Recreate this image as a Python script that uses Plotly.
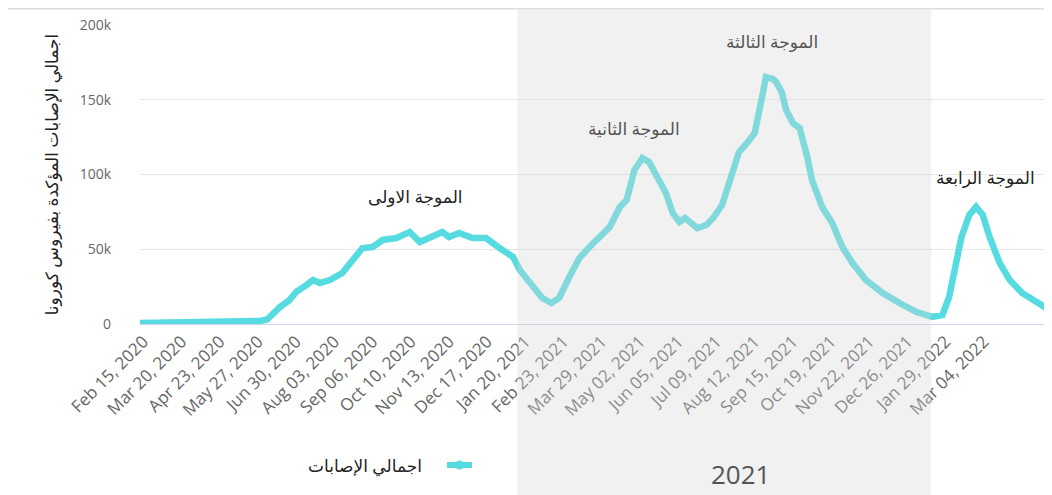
import plotly.graph_objects as go

# ---- data ----
dates = ["2020-02-12","2020-04-05","2020-05-20","2020-05-29","2020-06-04","2020-06-15","2020-06-24",
         "2020-06-30","2020-07-09","2020-07-15","2020-07-21","2020-07-30","2020-08-10","2020-08-19",
         "2020-08-28","2020-09-06","2020-09-15","2020-09-27","2020-10-09","2020-10-18","2020-10-27",
         "2020-11-07","2020-11-13","2020-11-22","2020-12-04","2020-12-16","2020-12-28",
         "2021-01-09","2021-01-15","2021-01-24","2021-02-04","2021-02-12","2021-02-19","2021-02-28",
         "2021-03-09","2021-03-18","2021-03-27","2021-04-05","2021-04-14","2021-04-20","2021-04-27",
         "2021-05-04","2021-05-10","2021-05-17","2021-05-25","2021-05-31","2021-06-06","2021-06-11",
         "2021-06-17","2021-06-22","2021-06-30","2021-07-06","2021-07-14","2021-07-22","2021-07-29",
         "2021-08-06","2021-08-12","2021-08-18","2021-08-22","2021-08-28","2021-08-31","2021-09-05",
         "2021-09-09","2021-09-15","2021-09-21","2021-09-28","2021-10-02","2021-10-11","2021-10-20",
         "2021-10-29","2021-11-07","2021-11-19","2021-12-04","2021-12-19",
         "2022-01-03","2022-01-17","2022-01-26","2022-02-01","2022-02-07","2022-02-12","2022-02-19",
         "2022-02-25","2022-03-03","2022-03-09","2022-03-18","2022-03-27","2022-04-07","2022-04-20",
         "2022-04-30"]
cases = [600,800,1500,2000,3000,11000,16000,21400,26000,29400,27400,29400,34100,42800,50800,51500,
         56200,57500,61500,54800,58200,61500,58200,60900,57500,57500,50800,
         44800,36100,27400,17400,14000,17400,31400,44100,51500,58200,64900,78300,82900,103000,111000,
         108400,98300,87600,74200,68200,70900,67600,64200,66200,70900,79600,98300,115000,121800,127800,
         149800,165200,163900,162000,155200,143100,134400,131100,111000,96300,78300,67600,51500,40800,
         29400,20700,14000,
         8000,4700,6000,18000,38100,58200,72900,78300,72900,58200,40800,29400,20700,14700,10000]

tick_dates = ["2020-02-15","2020-03-20","2020-04-23","2020-05-27","2020-06-30","2020-08-03",
              "2020-09-06","2020-10-10","2020-11-13","2020-12-17","2021-01-20","2021-02-23",
              "2021-03-29","2021-05-02","2021-06-05","2021-07-09","2021-08-12","2021-09-15",
              "2021-10-19","2021-11-22","2021-12-26","2022-01-29","2022-03-04"]
y_ticks = [0, 50000, 100000, 150000, 200000]
y_tick_text = ["0", "50k", "100k", "150k", "200k"]

wave_labels = ["الموجة الاولى", "الموجة الثانية", "الموجة الثالثة", "الموجة الرابعة"]
wave_x = ["2020-10-14", "2021-04-27", "2021-08-27", "2022-03-05"]
wave_y = [85600, 131100, 189300, 97700]
wave_colors = ["#222222", "#555555", "#555555", "#222222"]

series_name = "اجمالي الإصابات"
y_title = "اجمالي الإصابات المؤكدة بفيروس كورونا"
band_start, band_end = "2021-01-13", "2022-01-16"
band_label = "2021"
band_label_x = "2021-07-30"
x_range = ["2020-02-12", "2022-04-30"]

LINE = "#56dbe0"
FONT = "Open Sans, DejaVu Sans, sans-serif"

fig = go.Figure()
fig.add_trace(go.Scatter(x=dates, y=cases, mode="lines", name=series_name,
                         line=dict(color=LINE, width=6.5), showlegend=False))

# plot band for 2021 (drawn over the line, like the reference)
fig.add_shape(type="rect", xref="x", yref="paper", x0=band_start, x1=band_end,
              y0=-0.6, y1=1.05, fillcolor="rgba(214,214,214,0.34)", line_width=0, layer="above")
# top thin rule
fig.add_shape(type="line", xref="paper", yref="paper", x0=-0.16, x1=1.01, y0=1.054, y1=1.054,
              line=dict(color="#dddddd", width=1.5), layer="above")

for t, xx, yy, c in zip(wave_labels, wave_x, wave_y, wave_colors):
    fig.add_annotation(x=xx, y=yy, text=t, showarrow=False, font=dict(family=FONT, size=17, color=c))

fig.add_annotation(x=band_label_x, xref="x", y=-0.502, yref="paper", xanchor="center", yanchor="middle",
                   text=band_label, showarrow=False, font=dict(family=FONT, size=26, color="#555555"))

# legend (RTL: symbol to the right of the text)
fig.add_annotation(x=0.3128, y=-0.4716, xref="paper", yref="paper", xanchor="right", yanchor="middle",
                   text=series_name, showarrow=False, font=dict(family=FONT, size=17, color="#222222"))
fig.add_shape(type="line", xref="paper", yref="paper", x0=0.338, x1=0.3656, y0=-0.4716, y1=-0.4716,
              line=dict(color=LINE, width=6))
fig.add_shape(type="circle", xref="paper", yref="paper", x0=0.3469, x1=0.3569, y0=-0.4866, y1=-0.4566,
              fillcolor=LINE, line_width=0)

# page body has an 8px margin, so the figure is 8px smaller than the window
fig.update_layout(
    width=1044, height=487,
    margin=dict(l=132, r=4, t=17, b=171, autoexpand=False),
    paper_bgcolor="white", plot_bgcolor="white",
    font=dict(family=FONT, color="#666666"),
    showlegend=False,
)
fig.update_xaxes(type="date", range=x_range, tickvals=tick_dates, tickformat="%b %d, %Y",
                 tickangle=-45, tickfont=dict(size=17, color="#666666"), automargin=False,
                 showgrid=False, showline=True, linecolor="#ccd6eb", linewidth=1, zeroline=False)
fig.update_yaxes(range=[0, 200000], tickvals=y_ticks, ticktext=y_tick_text, automargin=False,
                 tickfont=dict(size=14, color="#666666"), ticklabelstandoff=28,
                 gridcolor="#e6e6e6", gridwidth=1, zeroline=False, showline=False,
                 title=dict(text=y_title, font=dict(family=FONT, size=17, color="#222222"), standoff=16))

fig.write_html("out.html")
